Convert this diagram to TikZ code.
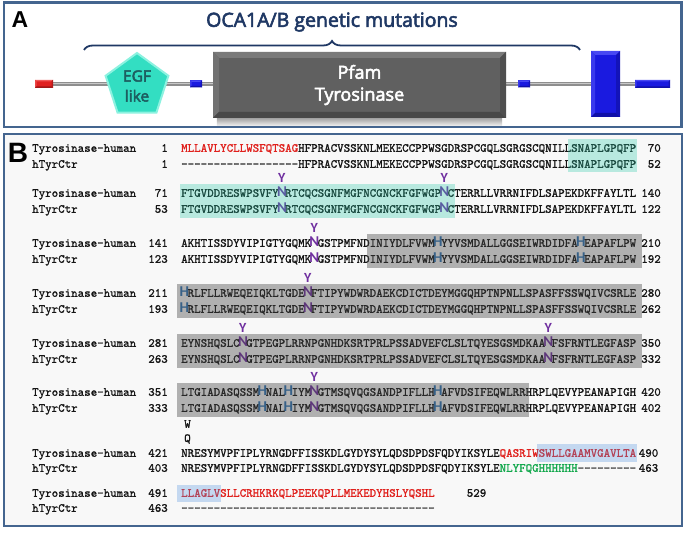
\documentclass[tikz,border=0pt]{standalone}
\usepackage{fontspec}
\usetikzlibrary{shapes.geometric,decorations.pathreplacing,calc}
\newfontfamily\seqfont[FakeBold=1.2]{lmmono10-regular.otf}
\newfontfamily\calib{Carlito}
\newfontfamily\osans[FakeBold=3]{Open Sans}
\newfontfamily\lsans{Liberation Sans}
\definecolor{panelborder}{HTML}{44658F}
\definecolor{pbg}{HTML}{F8F8F8}
\definecolor{navy}{HTML}{1F3864}
\definecolor{purp}{HTML}{7030A0}
\definecolor{hblue}{HTML}{2E74B5}
\definecolor{sred}{HTML}{E0201C}
\definecolor{sgreen}{HTML}{12A84C}
\definecolor{cyanX}{rgb}{0.15,0.78,0.65}
\definecolor{blueX}{rgb}{0.3,0.57,0.87}
\definecolor{greyX}{rgb}{0.27,0.27,0.27}
\definecolor{turq}{HTML}{33DEC2}
\definecolor{turqL}{HTML}{8CF2E0}
\definecolor{egftext}{HTML}{1D5E60}
\definecolor{pgrey}{HTML}{606060}
\definecolor{pgreyL}{HTML}{7A7A7A}
\definecolor{pgreyD}{HTML}{484848}
\definecolor{bblue}{HTML}{1A1AE0}
\definecolor{bblueL}{HTML}{4848F2}
\definecolor{bblueD}{HTML}{1010A8}
\definecolor{rred}{HTML}{E02020}
\definecolor{rredL}{HTML}{F05858}
\definecolor{rredD}{HTML}{A01818}
\definecolor{lineg}{HTML}{8E8E8E}
\definecolor{lineL}{HTML}{C8C8C8}
\def\ppb{path picture bounding box}
\newcommand\Nn{\makebox[0.525em]{\calib\bfseries\fontsize{15}{15}\selectfont\color{purp}N}}
\newcommand\Hh{\makebox[0.525em]{\calib\bfseries\fontsize{15}{15}\selectfont\color{hblue}H}}
\newcommand\rd[1]{\textcolor{sred}{#1}}
\newcommand\gr[1]{\textcolor{sgreen}{#1}}
\newcommand\dashes[1]{\foreach\i in {1,...,#1}{-\kern0pt}}
\pgfdeclarelayer{back}
\pgfdeclarelayer{bg}
\pgfsetlayers{back,bg,main}
\tikzset{
  seqtxt/.style={font=\seqfont\fontsize{12.38}{14}\selectfont, inner sep=0pt, text=black!92},
  ymark/.style={font=\calib\bfseries\fontsize{14}{14}\selectfont, text=purp, inner sep=0pt},
  lbl/.style={font=\lsans\bfseries\fontsize{#1}{#1}\selectfont, inner sep=0pt},
  panel/.style={draw=panelborder, line width=2.5pt},
  hlcyan/.style={fill=cyanX, fill opacity=0.3},
  hlgrey/.style={fill=greyX, fill opacity=0.4},
  hlblue/.style={fill=blueX, fill opacity=0.3},
  bevelbox/.style n args={4}{fill=#1, inner sep=0pt, path picture={
    \fill[#2] (\ppb.north west) -- (\ppb.north east) -- ([xshift=-#4,yshift=-#4]\ppb.north east) -- ([xshift=#4,yshift=-#4]\ppb.north west) -- cycle;
    \fill[#2!70!#1] (\ppb.north west) -- ([xshift=#4,yshift=-#4]\ppb.north west) -- ([xshift=#4,yshift=#4]\ppb.south west) -- (\ppb.south west) -- cycle;
    \fill[#3] (\ppb.south west) -- (\ppb.south east) -- ([xshift=-#4,yshift=#4]\ppb.south east) -- ([xshift=#4,yshift=#4]\ppb.south west) -- cycle;
    \fill[#3!70!#1] (\ppb.north east) -- ([xshift=-#4,yshift=-#4]\ppb.north east) -- ([xshift=-#4,yshift=#4]\ppb.south east) -- (\ppb.south east) -- cycle;
  }},
}
\newcommand\seqline[7]{%
  \node[seqtxt,anchor=base west] (#1-lab) at (32,{#2+3.8}) {#3};
  \node[seqtxt,anchor=base east] (#1-ln) at (168,{#2+3.8}) {#4};
  \node[seqtxt,anchor=base west] (#1-s) at (181,{#2+3.8}) {#5};
  \node[seqtxt,anchor=base east] (#1-rn) at (#7,{#2+3.8}) {#6};}
\begin{document}
\begin{tikzpicture}[x=1pt,y=-1pt]
\useasboundingbox (0,0) rectangle (686,534);
\begin{pgfonlayer}{back}
  \fill[white] (0,0) rectangle (686,534);
  \fill[pbg] (4,134) rectangle (682,526);
\end{pgfonlayer}
\draw[panel] (4,2.5) rectangle (681.5,127);
\draw[panel] (4,134) rectangle (682,526);

% ---------- Panel A ----------
\node[lbl=23] (A) at (20,20) {A};
\node[font=\osans\fontsize{19.5}{20}\selectfont, text=navy, inner sep=0pt] (title) at (332,22) {OCA1A/B genetic mutations};
\draw[navy, line width=1.8pt, decorate, decoration={brace, amplitude=9pt}] (84,50) -- (580,50);

\node[bevelbox={rred}{rredL}{rredD}{1.5pt}, minimum width=18pt, minimum height=8pt] (red) at (44,84) {};
\node[regular polygon, regular polygon sides=5, minimum size=66pt, inner sep=0pt, fill=turq, draw=turqL, line width=2pt,
      text=egftext, font=\osans\fontsize{15.5}{20}\selectfont, align=center] (egf) at (137,86) {EGF\\like};
\node[bevelbox={bblue}{bblueL}{bblueD}{1.5pt}, minimum width=12pt, minimum height=7pt] (sb1) at (196,84) {};
\node[bevelbox={pgrey}{pgreyL}{pgreyD}{6pt}, minimum width=293pt, minimum height=66pt, text=white,
      font=\osans\fontsize{18}{22}\selectfont, align=center] (pfam) at (359.5,85) {Pfam\\Tyrosinase};
\node[bevelbox={bblue}{bblueL}{bblueD}{1.5pt}, minimum width=12pt, minimum height=7pt] (sb2) at (524,84) {};
\node[bevelbox={bblue}{bblueL}{bblueD}{4pt}, minimum width=29pt, minimum height=66pt] (bigb) at (605.5,84) {};
\node[bevelbox={bblue}{bblueL}{bblueD}{1.5pt}, minimum width=35pt, minimum height=8pt] (rbar) at (652.5,84) {};
\begin{pgfonlayer}{bg}
  \draw[line width=4.5pt, lineg] (red.east) -- (rbar.west);
  \draw[line width=1.3pt, lineL] ([yshift=0.8pt]red.east) -- ([yshift=0.8pt]rbar.west);
  \shade[top color=black!45, bottom color=white, opacity=0.8] ([xshift=4pt]pfam.south west) rectangle ([xshift=-4pt,yshift=-9pt]pfam.south east);
\end{pgfonlayer}

% ---------- Panel B ----------
\node[lbl=28] (B) at (18,152.5) {B};

\seqline{r1a}{148}{Tyrosinase-human}{1}{\rd{MLLAVLYCLLWSFQTSAG}HFPRACVSSKNLMEKECCPPWSGDRSPCGQLSGRGSCQNILLSNAPLGPQFP}{70}{661}
\seqline{r1b}{164}{hTyrCtr}{1}{\dashes{18}HFPRACVSSKNLMEKECCPPWSGDRSPCGQLSGRGSCQNILLSNAPLGPQFP}{52}{661}

\seqline{r2a}{193}{Tyrosinase-human}{71}{FTGVDDRESWPSVFY\Nn RTCQCSGNFMGFNCGNCKFGFWGP\Nn CTERRLLVRRNIFDLSAPEKDKFFAYLTL}{140}{661}
\seqline{r2b}{209}{hTyrCtr}{53}{FTGVDDRESWPSVFY\Nn RTCQCSGNFMGFNCGNCKFGFWGP\Nn CTERRLLVRRNIFDLSAPEKDKFFAYLTL}{122}{661}

\seqline{r3a}{243}{Tyrosinase-human}{141}{AKHTISSDYVIPIGTYGQMK\Nn GSTPMFNDINIYDLFVWM\Hh YYVSMDALLGGSEIWRDIDFA\Hh EAPAFLPW}{210}{661}
\seqline{r3b}{259}{hTyrCtr}{123}{AKHTISSDYVIPIGTYGQMK\Nn GSTPMFNDINIYDLFVWM\Hh YYVSMDALLGGSEIWRDIDFA\Hh EAPAFLPW}{192}{661}

\seqline{r4a}{293}{Tyrosinase-human}{211}{\Hh RLFLLRWEQEIQKLTGDE\Nn FTIPYWDWRDAEKCDICTDEYMGGQHPTNPNLLSPASFFSSWQIVCSRLE}{280}{661}
\seqline{r4b}{309}{hTyrCtr}{193}{\Hh RLFLLRWEQEIQKLTGDE\Nn FTIPYWDWRDAEKCDICTDEYMGGQHPTNPNLLSPASFFSSWQIVCSRLE}{262}{661}

\seqline{r5a}{343}{Tyrosinase-human}{281}{EYNSHQSLC\Nn GTPEGPLRRNPGNHDKSRTPRLPSSADVEFCLSLTQYESGSMDKAA\Nn FSFRNTLEGFASP}{350}{661}
\seqline{r5b}{359}{hTyrCtr}{263}{EYNSHQSLC\Nn GTPEGPLRRNPGNHDKSRTPRLPSSADVEFCLSLTQYESGSMDKAA\Nn FSFRNTLEGFASP}{332}{661}

\seqline{r6a}{392}{Tyrosinase-human}{351}{LTGIADASQSSM\Hh NAL\Hh IYM\Nn GTMSQVQGSANDPIFLLH\Hh AFVDSIFEQWLRRHRPLQEVYPEANAPIGH}{420}{661}
\seqline{r6b}{408}{hTyrCtr}{333}{LTGIADASQSSM\Hh NAL\Hh IYM\Nn GTMSQVQGSANDPIFLLH\Hh AFVDSIFEQWLRRHRPLQEVYPEANAPIGH}{402}{661}

\node[seqtxt] (wmut) at (187.5,424) {W};
\node[seqtxt] (qmut) at (187.5,439) {Q};

\seqline{r7a}{453}{Tyrosinase-human}{421}{NRESYMVPFIPLYRNGDFFISSKDLGYDYSYLQDSDPDSFQDYIKSYLE\rd{QASRIWSWLLGAAMVGAVLTA}}{490}{658.5}
\seqline{r7b}{468}{hTyrCtr}{403}{NRESYMVPFIPLYRNGDFFISSKDLGYDYSYLQDSDPDSFQDYIKSYLE\gr{NLYFQGHHHHHH}\dashes{9}}{463}{658.5}

\seqline{r8a}{493}{Tyrosinase-human}{491}{\rd{LLAGLVSLLCRHKRKQLPEEKQPLLMEKEDYHSLYQSHL}}{529}{486.5}
\node[seqtxt,anchor=base west] (r8b-lab) at (32,{508+3.8}) {hTyrCtr};
\node[seqtxt,anchor=base east] (r8b-ln) at (168,{508+3.8}) {463};
\node[seqtxt,anchor=base west] (r8b-s) at (181,{508+3.8}) {\dashes{39}};

% glycosylation marks
\node[ymark] (y1) at (281.75,178) {Y};
\node[ymark] (y2) at (444.25,178) {Y};
\node[ymark] (y3) at (314.25,228) {Y};
\node[ymark] (y4) at (307.75,278) {Y};
\node[ymark] (y5) at (242.75,328) {Y};
\node[ymark] (y6) at (548.25,328) {Y};
\node[ymark] (y7) at (314.25,377) {Y};

% highlights
\fill[hlcyan] (568,139) rectangle (637,172);
\fill[hlcyan] (180,184) rectangle (455,218);
\fill[hlgrey] (367,234) rectangle (642,268);
\fill[hlgrey] (177,284) rectangle (642,318);
\fill[hlgrey] (177,334) rectangle (642,368);
\fill[hlgrey] (177,383) rectangle (529,417);
\fill[hlblue] (537,444) rectangle (637,462);
\fill[hlblue] (177,485) rectangle (221,502);
\end{tikzpicture}
\end{document}
